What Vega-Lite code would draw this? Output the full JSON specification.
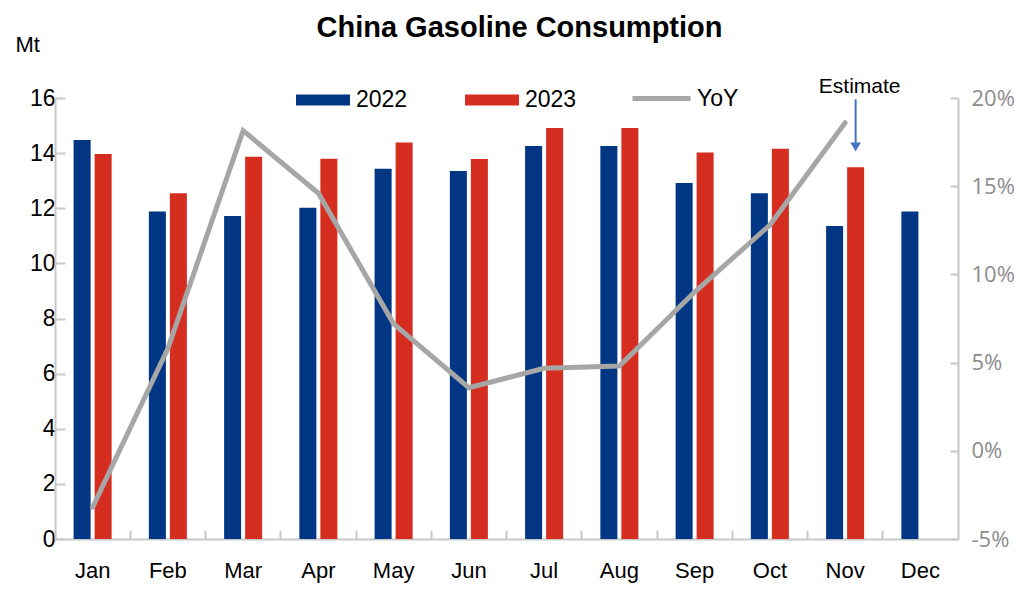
{
  "$schema": "https://vega.github.io/schema/vega-lite/v6.json",
  "width": 903,
  "height": 441,
  "autosize": {"type": "none"},
  "padding": {"left": 55, "top": 98, "right": 77, "bottom": 53},
  "background": "white",
  "config": {
    "view": {"stroke": null},
    "font": "Liberation Sans",
    "axis": {"grid": false, "domainColor": "#c8c8c8", "domainWidth": 2, "tickColor": "#c8c8c8", "tickWidth": 2, "labelFont": "Liberation Sans", "labelFontSize": 22, "labelColor": "#000000"}
  },
  "title": {"text": "China Gasoline Consumption", "font": "Liberation Sans", "fontSize": 29, "fontWeight": "bold", "color": "#000000", "anchor": "middle", "dx": 13, "dy": 28, "offset": 18},
  "datasets": {
    "bars": [
      {"month": "Jan", "year": "2022", "value": 14.48},
      {"month": "Jan", "year": "2023", "value": 13.97},
      {"month": "Feb", "year": "2022", "value": 11.88},
      {"month": "Feb", "year": "2023", "value": 12.54},
      {"month": "Mar", "year": "2022", "value": 11.72},
      {"month": "Mar", "year": "2023", "value": 13.87},
      {"month": "Apr", "year": "2022", "value": 12.02},
      {"month": "Apr", "year": "2023", "value": 13.8},
      {"month": "May", "year": "2022", "value": 13.43},
      {"month": "May", "year": "2023", "value": 14.39},
      {"month": "Jun", "year": "2022", "value": 13.35},
      {"month": "Jun", "year": "2023", "value": 13.79},
      {"month": "Jul", "year": "2022", "value": 14.26},
      {"month": "Jul", "year": "2023", "value": 14.91},
      {"month": "Aug", "year": "2022", "value": 14.26},
      {"month": "Aug", "year": "2023", "value": 14.91},
      {"month": "Sep", "year": "2022", "value": 12.92},
      {"month": "Sep", "year": "2023", "value": 14.02},
      {"month": "Oct", "year": "2022", "value": 12.54},
      {"month": "Oct", "year": "2023", "value": 14.16},
      {"month": "Nov", "year": "2022", "value": 11.36},
      {"month": "Nov", "year": "2023", "value": 13.49},
      {"month": "Dec", "year": "2022", "value": 11.88}
    ],
    "yoy": [
      {"month": "Jan", "yoy": -3.2, "series": "YoY"},
      {"month": "Feb", "yoy": 5.8, "series": "YoY"},
      {"month": "Mar", "yoy": 18.15, "series": "YoY"},
      {"month": "Apr", "yoy": 14.6, "series": "YoY"},
      {"month": "May", "yoy": 7.2, "series": "YoY"},
      {"month": "Jun", "yoy": 3.58, "series": "YoY"},
      {"month": "Jul", "yoy": 4.68, "series": "YoY"},
      {"month": "Aug", "yoy": 4.81, "series": "YoY"},
      {"month": "Sep", "yoy": 9.0, "series": "YoY"},
      {"month": "Oct", "yoy": 12.8, "series": "YoY"},
      {"month": "Nov", "yoy": 18.6, "series": "YoY"}
    ],
    "note": [
      {"month": "Nov", "year": "2023", "label": "Estimate", "textY": 16.4, "arrowTop": 15.95, "arrowBottom": 14.35, "tip": 14.22}
    ]
  },
  "encoding": {
    "x": {
      "field": "month", "type": "nominal",
      "sort": ["Jan","Feb","Mar","Apr","May","Jun","Jul","Aug","Sep","Oct","Nov","Dec"],
      "scale": {"paddingInner": 0, "paddingOuter": 0},
      "axis": {"title": null, "labelAngle": 0, "bandPosition": 0, "tickSize": -9, "labelPadding": 30, "domainColor": "#c8c8c8"}
    }
  },
  "layer": [
    {
      "layer": [
        {
          "data": {"name": "bars"},
          "mark": {"type": "bar"},
          "encoding": {
            "xOffset": {"field": "year", "type": "nominal", "scale": {"domain": ["2022","2023"], "paddingInner": 0.19, "paddingOuter": 0.886}},
            "y": {
              "field": "value", "type": "quantitative",
              "scale": {"domain": [0, 16], "nice": false, "zero": true},
              "axis": {"values": [0,2,4,6,8,10,12,14,16], "tickSize": -10, "labelPadding": 10, "labelFontSize": 23, "title": "Mt", "titleAngle": 0, "titleAlign": "left", "titleBaseline": "alphabetic", "titleX": -40, "titleY": -47, "titleFont": "Liberation Sans", "titleFontSize": 22, "titleFontWeight": "normal", "titleColor": "#000000"}
            },
            "color": {
              "field": "year", "type": "nominal",
              "scale": {"domain": ["2022","2023"], "range": ["#013684", "#d52e21"]},
              "legend": {"title": null, "orient": "none", "direction": "horizontal", "legendX": 241, "legendY": -25, "symbolType": "M-1,-0.2H1V0.2H-1Z", "symbolSize": 2916, "symbolStrokeWidth": 0, "labelFont": "Liberation Sans", "labelFontSize": 23, "labelColor": "#000000", "labelOffset": 6, "columnPadding": 57}
            }
          }
        },
        {
          "data": {"name": "note"},
          "mark": {"type": "text", "font": "Liberation Sans", "fontSize": 21, "color": "#000000", "baseline": "middle", "dx": 4},
          "encoding": {
            "xOffset": {"field": "year", "type": "nominal"},
            "y": {"field": "textY", "type": "quantitative"},
            "text": {"field": "label"}
          }
        },
        {
          "data": {"name": "note"},
          "mark": {"type": "rule", "color": "#4472c4", "strokeWidth": 2, "xOffset": 1.5},
          "encoding": {
            "xOffset": {"field": "year", "type": "nominal"},
            "y": {"field": "arrowTop", "type": "quantitative"},
            "y2": {"field": "arrowBottom"}
          }
        },
        {
          "data": {"name": "note"},
          "mark": {"type": "point", "shape": "triangle-down", "filled": true, "color": "#4472c4", "size": 110, "opacity": 1, "xOffset": 1.5},
          "encoding": {
            "xOffset": {"field": "year", "type": "nominal"},
            "y": {"field": "tip", "type": "quantitative"}
          }
        }
      ]
    },
    {
      "data": {"name": "yoy"},
      "mark": {"type": "line", "strokeWidth": 5, "strokeCap": "round", "strokeJoin": "miter"},
      "encoding": {
        "y": {
          "field": "yoy", "type": "quantitative",
          "scale": {"domain": [-5, 20], "nice": false, "zero": false},
          "axis": {"orient": "right", "values": [-5,0,5,10,15,20], "labelExpr": "datum.value + '%'", "tickSize": -8, "labelPadding": 21, "title": null, "labelFont": "Open Sans", "labelFontSize": 22, "labelColor": "#8c8c8c"}
        },
        "stroke": {
          "field": "series", "type": "nominal",
          "scale": {"domain": ["YoY"], "range": ["#a6a6a6"]},
          "legend": {"title": null, "orient": "none", "legendX": 575, "legendY": -31, "symbolType": "stroke", "symbolSize": 3364, "symbolStrokeWidth": 5, "labelFont": "Liberation Sans", "labelFontSize": 23, "labelColor": "#000000", "labelOffset": 4}
        }
      }
    }
  ],
  "resolve": {"scale": {"y": "independent"}}
}
